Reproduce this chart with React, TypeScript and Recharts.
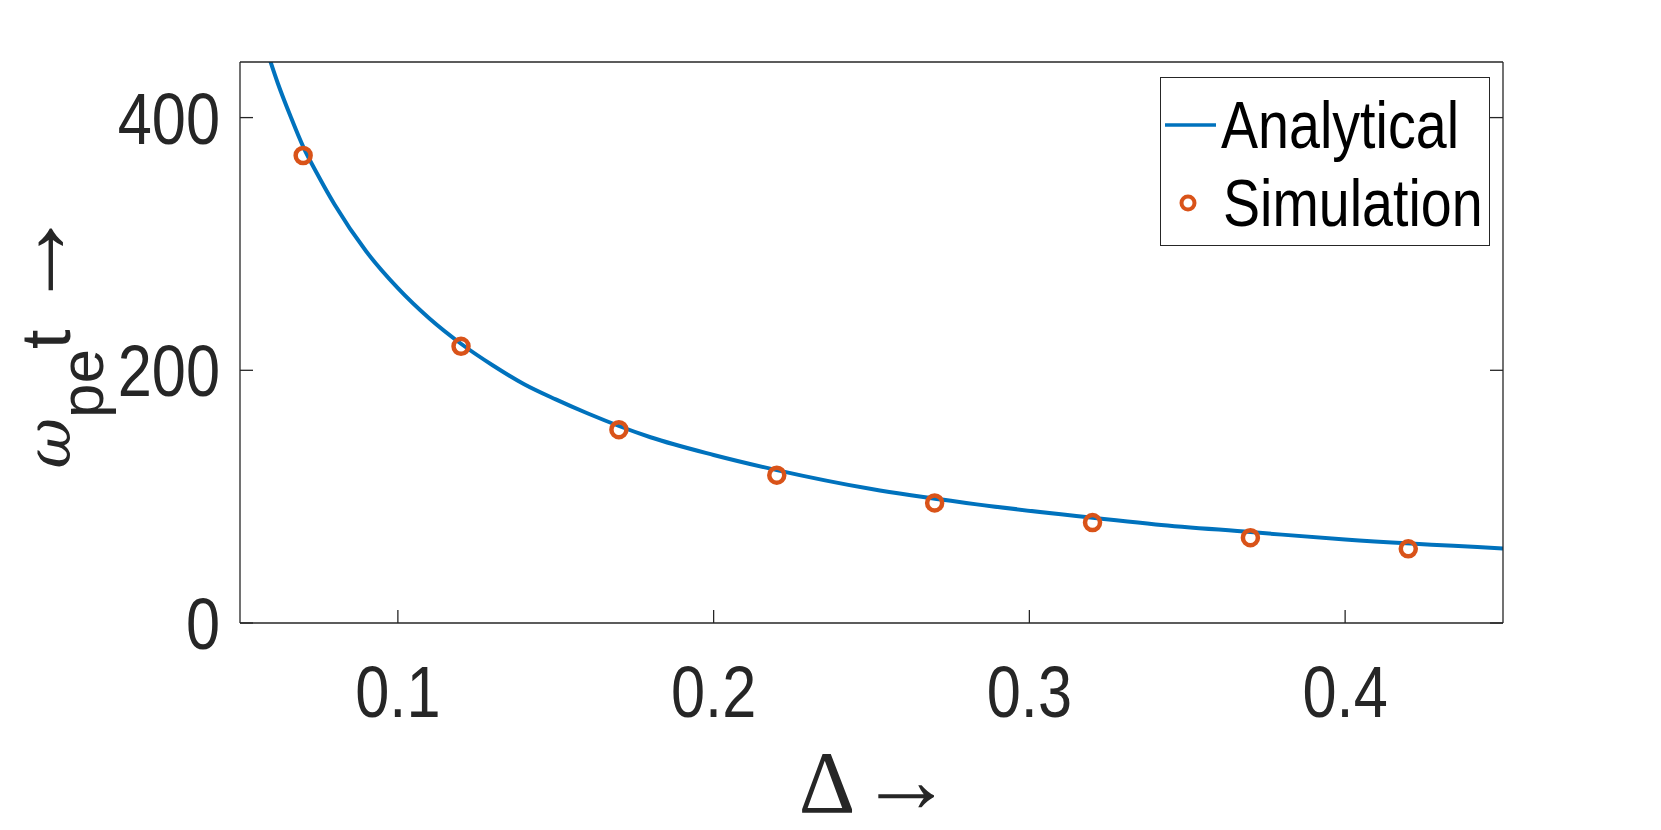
import {
  ComposedChart,
  Line,
  Scatter,
  XAxis,
  YAxis,
  Legend,
} from "recharts";

// Δ values and ω_pe t
const analyticX = [0.058, 0.062, 0.066, 0.07, 0.075, 0.08, 0.09, 0.1, 0.11, 0.12, 0.13, 0.14, 0.15, 0.16, 0.18, 0.2, 0.22, 0.25, 0.28, 0.31, 0.34, 0.37, 0.4, 0.45];
const analyticY = [457, 427, 401, 377, 353, 331, 294, 265, 241, 221, 204, 189, 177, 166, 147, 133, 121, 106, 95, 86, 78, 72, 66, 59];

// simulation points
const simX = [0.07, 0.12, 0.17, 0.22, 0.27, 0.32, 0.37, 0.42];
const simY = [370, 219, 153, 117, 95, 79.5, 67.5, 58.7];

const xTicks = [0.1, 0.2, 0.3, 0.4];
const yTicks = [0, 200, 400];

const analytical = analyticX.map((x, i) => ({ x, y: analyticY[i] }));
const simulation = simX.map((x, i) => ({ x, y: simY[i] }));

const BLUE = "#0072BD";
const ORANGE = "#D95319";
const AXIS = "#262626";
const FONT = "'Liberation Sans', Arial, sans-serif";
const SERIF = "'Liberation Serif', serif";
const SQUEEZE = 0.84; // reference text is a narrow Helvetica

const tickStyle = { fontSize: 73, fontFamily: FONT, fill: AXIS };

const XTick = ({ x, y, payload }: any) => (
  <g transform={`translate(${x},${y}) scale(${SQUEEZE},1)`}>
    <text textAnchor="middle" dy="0.71em" style={tickStyle}>
      {Number(payload.value).toFixed(1)}
    </text>
  </g>
);

const YTick = ({ x, y, payload }: any) => (
  <g transform={`translate(${x},${y}) scale(${SQUEEZE},1)`}>
    <text textAnchor="end" dy="0.355em" style={tickStyle}>
      {payload.value}
    </text>
  </g>
);

const SimDot = (props: any) => (
  <circle cx={props.cx} cy={props.cy} r={7.5} fill="none" stroke={ORANGE} strokeWidth={4.5} />
);

const legendText = {
  display: "inline-block",
  transform: `scaleX(0.83)`,
  transformOrigin: "left center",
  lineHeight: "78px",
  whiteSpace: "nowrap" as const,
};

const renderLegend = () => (
  <div
    style={{
      width: 330,
      height: 169,
      boxSizing: "border-box",
      border: `1.5px solid ${AXIS}`,
      background: "#fff",
      fontFamily: FONT,
      fontSize: 67,
      color: "#000",
      paddingTop: 8,
      overflow: "hidden",
    }}
  >
    <div style={{ display: "flex", alignItems: "center", height: 78 }}>
      <svg width={60} height={20} style={{ flex: "none" }}>
        <line x1={4} y1={10} x2={55} y2={10} stroke={BLUE} strokeWidth={3.5} />
      </svg>
      <span style={legendText}>Analytical</span>
    </div>
    <div style={{ display: "flex", alignItems: "center", height: 78 }}>
      <svg width={62} height={24} style={{ flex: "none" }}>
        <circle cx={27} cy={12} r={6.5} fill="none" stroke={ORANGE} strokeWidth={4} />
      </svg>
      <span style={legendText}>Simulation</span>
    </div>
  </div>
);

const XLabel = () => (
  <text x={876} y={812} textAnchor="middle" fill={AXIS} fontSize={88} fontFamily={SERIF}>
    Δ
    <tspan fontSize={94} dx={4}>→</tspan>
  </text>
);

const YLabel = () => (
  <text
    x={70}
    y={338}
    transform="rotate(-90, 70, 338)"
    textAnchor="middle"
    fill={AXIS}
    fontSize={70}
    fontFamily={FONT}
  >
    <tspan fontFamily="'DejaVu Serif', serif" fontStyle="italic" fontSize={62}>ω</tspan>
    <tspan fontSize={62} dy={33}>pe</tspan>
    <tspan dy={-33}>t</tspan>
    <tspan fontFamily={SERIF} fontSize={104} dy={-2} dx={18}>→</tspan>
  </text>
);

export default function App() {
  return (
    <div style={{ position: "absolute", left: 0, top: 0, background: "#fff" }}>
      <ComposedChart width={1661} height={830} margin={{ top: 61, right: 157, bottom: 0, left: 0 }}>
        <XAxis
          dataKey="x"
          type="number"
          domain={[0.05, 0.45]}
          ticks={xTicks}
          height={207}
          tickSize={-13}
          tickMargin={55}
          tick={<XTick />}
          stroke={AXIS}
          strokeWidth={1.3}
          allowDataOverflow
          label={{ content: () => <XLabel /> }}
        />
        <XAxis
          xAxisId="top"
          orientation="top"
          type="number"
          domain={[0.05, 0.45]}
          ticks={xTicks}
          tickFormatter={() => ""}
          height={1}
          tickSize={-13}
          stroke={AXIS}
          strokeWidth={1.3}
          allowDataOverflow
        />
        <YAxis
          type="number"
          domain={[0, 444]}
          ticks={yTicks}
          width={240}
          tickSize={-13}
          tickMargin={33}
          tick={<YTick />}
          stroke={AXIS}
          strokeWidth={1.3}
          allowDataOverflow
          label={{ content: () => <YLabel /> }}
        />
        <YAxis
          yAxisId="right"
          orientation="right"
          type="number"
          domain={[0, 444]}
          ticks={yTicks}
          tickFormatter={() => ""}
          width={1}
          tickSize={-13}
          stroke={AXIS}
          strokeWidth={1.3}
          allowDataOverflow
        />
        <Line
          data={analytical}
          dataKey="y"
          type="monotone"
          stroke={BLUE}
          strokeWidth={4}
          dot={false}
          activeDot={false}
          isAnimationActive={false}
          legendType="none"
        />
        <Scatter data={simulation} dataKey="y" shape={SimDot} isAnimationActive={false} legendType="none" />
        <Legend
          layout="vertical"
          align="center"
          verticalAlign="middle"
          content={renderLegend}
          wrapperStyle={{ position: "absolute", left: 1160, top: 77, width: 330, height: 169 }}
        />
      </ComposedChart>
    </div>
  );
}
